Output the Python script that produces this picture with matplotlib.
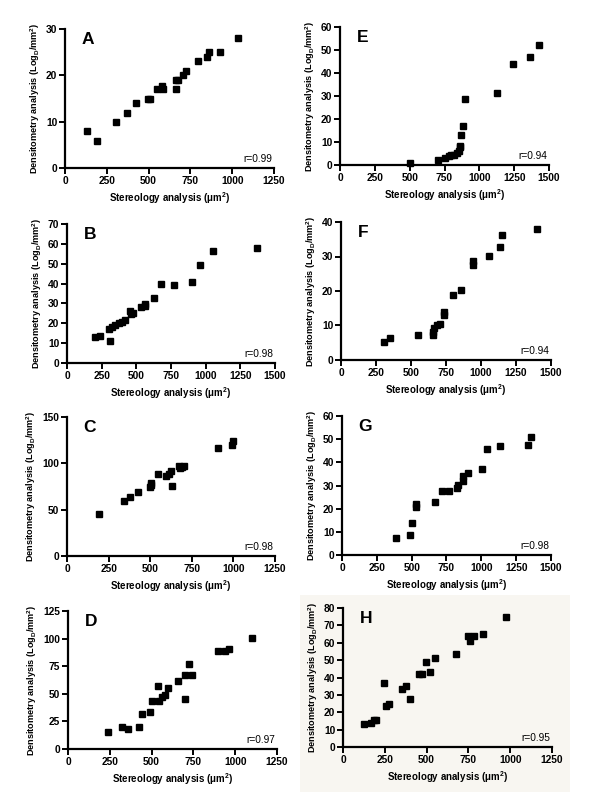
import matplotlib.pyplot as plt
from matplotlib.patches import Rectangle

plt.rcParams['font.family'] = ['Liberation Sans', 'DejaVu Sans']
plt.rcParams['font.weight'] = 'bold'
plt.rcParams['mathtext.fontset'] = 'custom'
plt.rcParams['mathtext.rm'] = 'Liberation Sans:bold'
plt.rcParams['mathtext.it'] = 'Liberation Sans:bold'
plt.rcParams['mathtext.bf'] = 'Liberation Sans:bold'
plt.rcParams['mathtext.default'] = 'rm'

# ---- data (stereology µm², densitometry LogD/mm²) ----
a_x = [134, 193, 305, 369, 425, 494, 509, 548, 578, 588, 662, 662, 674, 704, 722, 793, 849, 861, 925, 1033]
a_y = [8.0, 5.9, 10, 11.9, 14.1, 15, 15, 17, 17.8, 17, 17, 19, 19, 20, 21, 23, 24, 25, 25, 28]

b_x = [204, 235, 312, 300, 324, 348, 372, 396, 420, 451, 461, 473, 533, 559, 564, 629, 679, 770, 900, 960, 1056, 1373]
b_y = [12.9, 13.6, 10.9, 17, 18, 19.3, 20.1, 20.8, 21.5, 26.4, 24.8, 25.3, 28.2, 29.9, 28.9, 32.9, 39.8, 39.1, 40.8, 49.5, 56.2, 57.9]

c_x = [194, 342, 380, 428, 496, 502, 506, 544, 592, 614, 622, 630, 672, 680, 690, 702, 910, 994, 998]
c_y = [44.9, 59.6, 64.2, 68.9, 75, 76.8, 78.6, 88.3, 85.8, 89, 91.9, 76, 97.6, 94.7, 95.8, 97.2, 117, 119.8, 124.1]

d_x = [240, 322, 358, 422, 442, 492, 502, 540, 542, 560, 578, 600, 658, 702, 700, 724, 742, 896, 940, 960, 1100]
d_y = [15.4, 19.6, 18.4, 20.2, 31.7, 33.8, 43.2, 57.1, 43.8, 46.8, 49.2, 55, 61.9, 67, 45.6, 77, 66.7, 88.5, 88.5, 90.9, 100.2]

e_x = [502, 700, 755, 781, 800, 819, 841, 853, 860, 862, 867, 886, 900, 1125, 1244, 1361, 1428]
e_y = [0.9, 2, 2.9, 3.8, 4.2, 4.5, 5.2, 6.1, 7.8, 8.3, 13.2, 16.8, 28.8, 31.3, 44, 47, 52.3]

f_x = [305, 348, 552, 655, 660, 664, 686, 710, 733, 733, 802, 860, 940, 945, 1057, 1136, 1152, 1398]
f_y = [5.2, 6.4, 7.2, 7.2, 8.1, 9.2, 10, 10.5, 12.9, 13.9, 18.7, 20.2, 27.5, 28.8, 30.1, 32.8, 36.3, 38]

g_x = [391, 486, 501, 530, 530, 671, 717, 767, 827, 829, 868, 870, 901, 1006, 1044, 1136, 1335, 1354]
g_y = [7.5, 8.6, 13.6, 20.8, 21.8, 22.7, 27.6, 27.6, 29.1, 30.1, 31.9, 34.2, 35.2, 37, 45.6, 47, 47.4, 50.8]

h_x = [124, 167, 183, 197, 243, 255, 273, 353, 375, 403, 455, 474, 494, 522, 552, 674, 748, 760, 781, 839, 973]
h_y = [13.1, 13.8, 15.4, 15.8, 37.1, 23.8, 24.8, 33.1, 35.2, 27.9, 42.1, 42.1, 49, 42.9, 51.2, 53.8, 63.8, 61, 63.8, 65.2, 75]

letters = ['A', 'B', 'C', 'D', 'E', 'F', 'G', 'H']
r_values = ['0.99', '0.98', '0.98', '0.97', '0.94', '0.94', '0.98', '0.95']
xs = [a_x, b_x, c_x, d_x, e_x, f_x, g_x, h_x]
ys = [a_y, b_y, c_y, d_y, e_y, f_y, g_y, h_y]
x_max = [1250, 1500, 1250, 1250, 1500, 1500, 1500, 1250]
y_max = [30, 70, 150, 125, 60, 40, 60, 80]
y_step = [10, 10, 50, 25, 10, 10, 10, 10]

# axes boxes in pixels: left, right, top, bottom (600x800 canvas)
boxes = [
    (65, 274, 29, 168), (67, 275, 224, 363), (67, 275, 417, 556), (68, 277, 611, 749),
    (340, 549, 27, 165), (341, 551, 222, 360), (342, 551, 416, 555), (343, 552, 608, 747),
]

fig = plt.figure(figsize=(6, 8), dpi=100)
fig.patch.set_facecolor('white')
# panel H sits on a slightly warm background in the scan
fig.patches.append(Rectangle((300 / 600, 8 / 800), 270 / 600, 197 / 800, transform=fig.transFigure,
                             facecolor='#f8f6f1', edgecolor='none', zorder=-5))

for i in range(8):
    l, r, t, b = boxes[i]
    ax = fig.add_axes([l / 600, 1 - b / 800, (r - l) / 600, (b - t) / 800])
    ax.set_facecolor('none')
    ax.plot(xs[i], ys[i], 's', color='black', ms=5, clip_on=False)

    ax.set_xlim(0, x_max[i])
    ax.set_ylim(0, y_max[i])
    ax.set_xticks(range(0, x_max[i] + 1, 250))
    ax.set_yticks(range(0, y_max[i] + 1, y_step[i]))
    for s in ['top', 'right']:
        ax.spines[s].set_visible(False)
    for s in ['left', 'bottom']:
        ax.spines[s].set_linewidth(1.6)
    ax.tick_params(direction='out', length=4, width=1.4, labelsize=7.4, pad=1.5)
    for lab in ax.get_xticklabels() + ax.get_yticklabels():
        lab.set_fontweight('bold')

    ax.set_xlabel('Stereology analysis (\u03bcm$^2$)', fontsize=7, fontweight='bold', labelpad=3)
    ax.set_ylabel('Densitometry analysis (Log$_D$/mm$^2$)', fontsize=6.6, fontweight='bold', labelpad=3)

    ax.text(0.08, 0.98, letters[i], transform=ax.transAxes, fontsize=12.5,
            fontweight='bold', va='top', ha='left')
    ax.text(0.99, 0.03, 'r=' + r_values[i], transform=ax.transAxes, fontsize=7.3,
            fontweight='normal', va='bottom', ha='right')

fig.savefig('out.png', dpi=100)
